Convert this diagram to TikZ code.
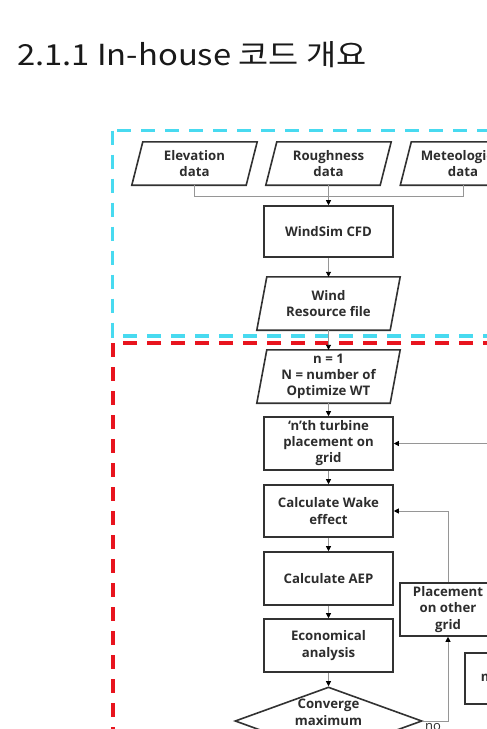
\documentclass[tikz,border=0pt]{standalone}
\usepackage{fontspec}
\setmainfont{Open Sans}
\newfontfamily\krfont{Noto Sans CJK KR}[FakeStretch=1.13]
\usetikzlibrary{arrows.meta,shapes.geometric}
\definecolor{cyandash}{RGB}{72,218,240}
\definecolor{reddash}{RGB}{232,20,30}
\definecolor{boxc}{RGB}{50,50,50}
\definecolor{linec}{RGB}{150,150,150}
\definecolor{txt}{RGB}{45,45,45}
\tikzset{
  lbl/.style={align=center, text=txt, font=\bfseries\fontsize{13.2}{16.8}\selectfont, inner sep=0pt},
  stepbox/.style={lbl, draw=boxc, line width=1.6pt, rectangle, minimum width=129pt, minimum height=52pt},
  iobody/.style={lbl, minimum width=114pt, minimum height=43pt},
  iobig/.style={lbl, minimum width=133pt, minimum height=53pt},
  ioline/.style={draw=boxc, line width=1.6pt, line join=miter},
  conn/.style={draw=linec, line width=0.9pt},
  arr/.style={conn, -{Triangle[width=5pt,length=5pt,color=black,fill=black]}},
  frame/.style={line width=3.5pt, dash pattern=on 14pt off 10pt}
}
\newcommand{\paral}[2]{\draw[ioline] ([xshift=-#2]#1.south west) -- ([xshift=#2]#1.north west) -- ([xshift=#2]#1.north east) -- ([xshift=-#2]#1.south east) -- cycle;}
\begin{document}
\begin{tikzpicture}[x=1pt,y=-1pt]
\useasboundingbox (0,0) rectangle (487,729);
\clip (0,0) rectangle (487,729);
\fill[white] (0,0) rectangle (487,729);
% title
\node[anchor=base west, inner sep=0pt, text=black!90, font=\krfont\fontsize{29}{34}\selectfont] (title) at (17,65) {2.1.1 In-house 코드 개요};
% frames
\draw[frame, cyandash] (112.5,130.5) rectangle (600,336);
\draw[frame, reddash] (113,343) rectangle (600,900);
% input data
\node[iobody] (elev) at (194.5,163.5) {Elevation\\data};
\node[iobody] (rough) at (328.5,163.5) {Roughness\\data};
\node[iobody] (met) at (463,163.5) {Meteological\\data};
\paral{elev}{5.5pt}
\paral{rough}{5.5pt}
\paral{met}{5.5pt}
\node[stepbox, minimum height=51pt] (cfd) at (328.5,231.5) {WindSim CFD};
\node[iobig] (wrf) at (328.5,303.5) {Wind\\Resource file};
\paral{wrf}{5pt}
\node[iobig, font=\bfseries\fontsize{13.2}{16}\selectfont] (n1) at (328.5,376.5) {n = 1\\N = number of\\Optimize WT};
\paral{n1}{5pt}
\node[stepbox, minimum height=53pt, font=\bfseries\fontsize{13.2}{16}\selectfont] (nth) at (328.5,443.5) {`n'th turbine\\placement on\\grid};
\node[stepbox] (wake) at (328.5,511) {Calculate Wake\\effect};
\node[stepbox, minimum height=53pt] (aep) at (328.5,578.5) {Calculate AEP};
\node[stepbox, minimum height=53pt] (econ) at (328.5,645.5) {Economical\\analysis};
\node[lbl, draw=boxc, line width=1.6pt, diamond, minimum width=187pt, minimum height=68pt] (conv) at (328.5,721) {};
\node[lbl] (convtxt) at (328.5,712.5) {Converge\\maximum};
\node[stepbox, minimum width=96pt, minimum height=53pt, font=\bfseries\fontsize{13.2}{16.4}\selectfont] (place) at (448,609.5) {Placement\\on other\\grid};
\node[stepbox, anchor=north west, minimum width=120pt, minimum height=51pt, text width=88pt, inner xsep=16pt, align=left] (mbox) at (464,652) {m};
\node[anchor=north west, inner sep=0pt, text=txt, font=\fontsize{13}{15}\selectfont] (no) at (425,723) {no};
\coordinate (join) at (328.5,196);
\coordinate (rin) at (520,443.5);
% connectors
\draw[conn] (elev.south) |- (join);
\draw[conn] (met.south) |- (join);
\draw[arr] (rough.south) -- (cfd.north);
\draw[arr] (cfd.south) -- (wrf.north);
\draw[arr] (wrf.south) -- (n1.north);
\draw[arr] (n1.south) -- (nth.north);
\draw[arr] (nth.south) -- (wake.north);
\draw[arr] (wake.south) -- (aep.north);
\draw[arr] (aep.south) -- (econ.north);
\draw[arr] (econ.south) -- (conv.north);
\draw[arr] (place.north) |- (wake.east);
\draw[arr] (conv.east) -| (place.south);
\draw[arr] (rin) -- (nth.east);
\end{tikzpicture}
\end{document}
